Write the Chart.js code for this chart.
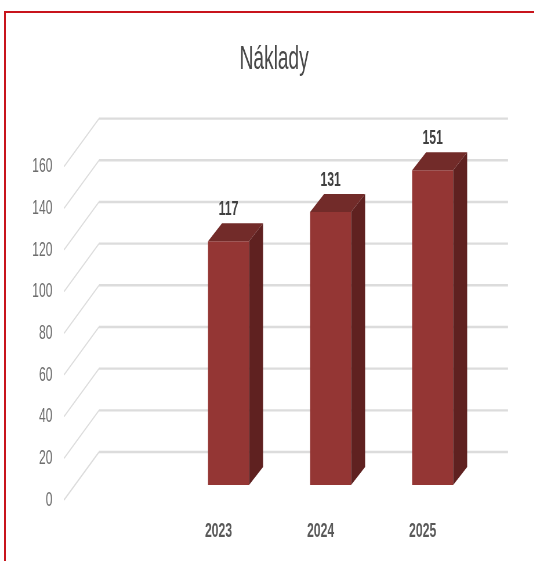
<!DOCTYPE html>
<html>
<head>
<meta charset="utf-8">
<title>Náklady</title>
<script src="https://cdn.jsdelivr.net/npm/chart.js@4"></script>
<style>
  html, body { margin: 0; padding: 0; background: #fff; }
  #wrap { position: relative; width: 534px; height: 561px; overflow: hidden; }
  #frame {
    position: absolute; left: 4px; top: 11px; right: 0; bottom: 0;
    border-top: 2px solid #c8141c; border-left: 2px solid #c8141c;
  }
  /* the reference has tall squeezed lettering, so the whole chart is drawn wide and pressed in */
  canvas { position: absolute; left: 0; top: 0; transform: scaleX(0.58); transform-origin: 0 0; }
</style>
</head>
<body>
<div id="wrap">
  <div id="frame"></div>
  <canvas id="chart" width="921" height="561"></canvas>
</div>
<script>
const chartTitle = "Náklady";
const years = ["2023", "2024", "2025"];
const costs = [117, 131, 151];
const yMin = 0;
const yMax = 160;
const yStep = 20;

const squeeze = 0.58;
const wide = (px) => px / squeeze;
const font = '"Liberation Sans", sans-serif';

// how far the back wall and the bar tops sit from the front plane
const wall = { left: wide(64), right: wide(508), dx: wide(35), front: 15, back: -33 };
const barDepth = { dx: wide(14), dy: -18 };

const fake3d = {
  id: "fake3d",
  afterLayout(chart) {
    // title sits over the plot, not over the whole canvas
    chart.titleBlock.left += wide(64.5);
  },
  beforeDatasetsDraw(chart) {
    const { ctx, scales } = chart;
    ctx.save();
    ctx.strokeStyle = "#dcdcdc";
    for (const t of scales.y.ticks) {
      const y = scales.y.getPixelForValue(t.value);
      ctx.lineWidth = 1.6;
      ctx.beginPath();
      ctx.moveTo(wall.left, y + wall.front);
      ctx.lineTo(wall.left + wall.dx, y + wall.back);
      ctx.stroke();
      ctx.lineWidth = 2.4;
      ctx.beginPath();
      ctx.moveTo(wall.left + wall.dx, y + wall.back);
      ctx.lineTo(wall.right, y + wall.back);
      ctx.stroke();
    }
    ctx.restore();
  },
  afterDatasetsDraw(chart) {
    const { ctx } = chart;
    const bars = chart.getDatasetMeta(0).data;
    ctx.save();
    bars.forEach((b, i) => {
      const l = b.x - b.width / 2;
      const r = b.x + b.width / 2;
      // top face
      ctx.fillStyle = "#722b29";
      ctx.beginPath();
      ctx.moveTo(l, b.y);
      ctx.lineTo(l + barDepth.dx, b.y + barDepth.dy);
      ctx.lineTo(r + barDepth.dx, b.y + barDepth.dy);
      ctx.lineTo(r, b.y);
      ctx.closePath();
      ctx.fill();
      // side face
      ctx.fillStyle = "#5f2120";
      ctx.beginPath();
      ctx.moveTo(r, b.y);
      ctx.lineTo(r + barDepth.dx, b.y + barDepth.dy);
      ctx.lineTo(r + barDepth.dx, b.base + barDepth.dy);
      ctx.lineTo(r, b.base);
      ctx.closePath();
      ctx.fill();
      // value label
      ctx.fillStyle = "#404040";
      ctx.font = "bold 21px " + font;
      ctx.textAlign = "center";
      ctx.textBaseline = "middle";
      ctx.fillText(costs[i], b.x, b.y - 32);
    });
    ctx.restore();
  },
};

new Chart(document.getElementById("chart"), {
  type: "bar",
  data: {
    labels: years,
    datasets: [
      {
        label: chartTitle,
        data: costs,
        backgroundColor: "#943634",
        barPercentage: 0.402,
        categoryPercentage: 1,
      },
    ],
  },
  options: {
    responsive: false,
    animation: false,
    layout: { padding: { right: wide(50.5) } },
    plugins: {
      legend: { display: false },
      tooltip: { enabled: false },
      title: {
        display: true,
        text: chartTitle,
        color: "#484848",
        font: { family: font, size: 33, weight: "normal" },
        padding: { top: 40, bottom: 72 },
      },
    },
    scales: {
      x: {
        grid: { display: false },
        border: { display: false },
        afterFit(scale) { scale.height = 76; },
        ticks: {
          color: "#595959",
          font: { family: font, size: 21, weight: "bold" },
          padding: 26,
          labelOffset: wide(-10),
          maxRotation: 0,
        },
      },
      y: {
        min: yMin,
        max: yMax,
        grid: { display: false, drawTicks: false },
        border: { display: false },
        afterFit(scale) {
          // the big tick padding must not eat into the plot height
          scale.width = wide(177.5);
          scale.paddingTop = 0;
          scale.paddingBottom = 0;
        },
        ticks: {
          stepSize: yStep,
          color: "#6e6e6e",
          font: { family: font, size: 21 },
          padding: wide(125),
          labelOffset: 15,
        },
      },
    },
  },
  plugins: [fake3d],
});
</script>
</body>
</html>
